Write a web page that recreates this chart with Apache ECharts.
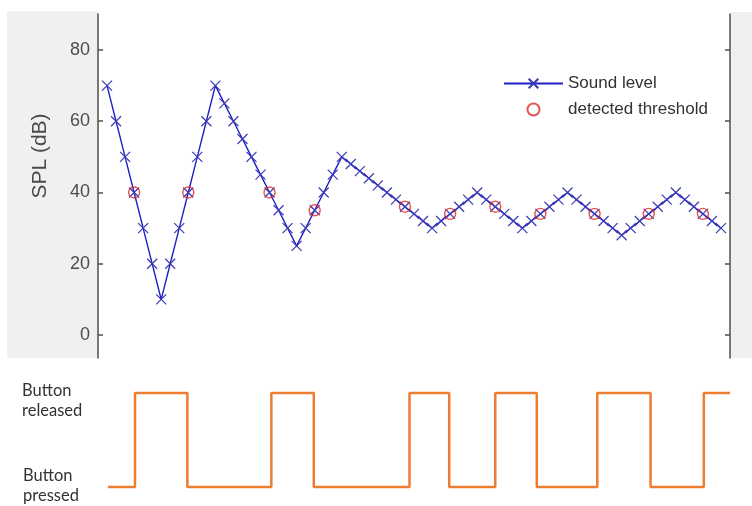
<!DOCTYPE html>
<html>
<head>
<meta charset="utf-8">
<script src="https://cdn.jsdelivr.net/npm/echarts@6/dist/echarts.min.js"></script>
<style>
html,body{margin:0;padding:0;background:#fff;}
#chart{width:752px;height:506px;}
</style>
</head>
<body>
<div id="chart"></div>
<script>
// Sound level (dB SPL), one value per trial (trial numbers 1..69)
var soundLevel = [70,60,50,40,30,20,10,20,30,40,50,60,70,
  65,60,55,50,45,40,35,30,25,
  30,35,40,45,50,
  48,46,44,42,40,38,36,34,32,30,
  32,34,36,38,40,
  38,36,34,32,30,
  32,34,36,38,40,
  38,36,34,32,30,28,
  30,32,34,36,38,40,
  38,36,34,32,30];
// detected thresholds (trial number, dB)
var thresholdTrial = [4,10,19,24,34,39,44,49,55,61,67];
var thresholdLevel = [40,40,40,35,36,34,36,34,34,34,34];
// button state changes (trial position, state: 0 = pressed, 1 = released)
var buttonTime  = [1.1, 4.1, 9.9, 19.2, 23.9, 34.5, 38.9, 44.0, 48.6, 55.3, 61.2, 67.1, 70];
var buttonState = [0,   1,   0,   1,    0,    1,    0,    1,    0,    1,    0,    1,    1];
var yTicks = [0,20,40,60,80];

var soundData = soundLevel.map(function(v,i){return [i+1, v];});
var threshData = thresholdTrial.map(function(t,i){return [t, thresholdLevel[i]];});
var buttonData = buttonTime.map(function(t,i){return [t, buttonState[i]];});

var chart = echarts.init(document.getElementById('chart'), null, {renderer:'canvas'});
var axisCol = '#4f4f4f';
var option = {
  backgroundColor: '#fff',
  animation: false,
  textStyle: {fontFamily: 'Liberation Sans, Arial, sans-serif'},
  graphic: [
    {type:'rect', z:-10, shape:{x:7, y:11, width:91, height:347}, style:{fill:'#f0f0f0'}},
    {type:'rect', z:-10, shape:{x:730, y:12, width:22, height:346}, style:{fill:'#f0f0f0'}},
    {type:'text', x:40, y:156, rotation: Math.PI/2, style:{text:'SPL (dB)', fontSize:21, fill:'#4a4a4a', fontFamily:'Liberation Sans, Arial, sans-serif', textAlign:'center', textVerticalAlign:'middle'}},
    {type:'text', x:22, y:391, style:{text:'Button', fontSize:16.5, fill:'#333', fontFamily:'Lato, sans-serif', textVerticalAlign:'middle'}},
    {type:'text', x:22, y:411, style:{text:'released', fontSize:16.5, fill:'#333', fontFamily:'Lato, sans-serif', textVerticalAlign:'middle'}},
    {type:'text', x:23, y:476, style:{text:'Button', fontSize:16.5, fill:'#333', fontFamily:'Lato, sans-serif', textVerticalAlign:'middle'}},
    {type:'text', x:23, y:496, style:{text:'pressed', fontSize:16.5, fill:'#333', fontFamily:'Lato, sans-serif', textVerticalAlign:'middle'}}
  ],
  legend: {
    orient: 'vertical',
    left: 503, top: 75, padding: 0,
    itemWidth: 59, itemHeight: 12, itemGap: 9,
    textStyle: {fontSize: 17, color: '#333', fontFamily:'Liberation Sans, Arial, sans-serif'},
    data: ['Sound level', 'detected threshold']
  },
  grid: [
    {left: 98, right: 22, top: 14, height: 344, show: true, backgroundColor: '#fff', borderWidth: 0},
    {left: 98, right: 22, top: 393, height: 94}
  ],
  xAxis: [
    {gridIndex:0, type:'value', min:0, max:70, show:false},
    {gridIndex:1, type:'value', min:0, max:70, show:false}
  ],
  yAxis: [
    {gridIndex:0, type:'value', min:-6.46, max:90.1, position:'left',
      axisLine:{show:true, lineStyle:{color:axisCol, width:1.5}},
      axisTick:{show:true, inside:true, length:5, customValues:yTicks, lineStyle:{color:axisCol, width:1.5}},
      axisLabel:{customValues:yTicks, fontSize:18, color:'#4d4d4d', margin:8},
      splitLine:{show:false}},
    {gridIndex:0, type:'value', min:-6.46, max:90.1, position:'right',
      axisLine:{show:true, lineStyle:{color:axisCol, width:1.5}},
      axisTick:{show:true, inside:true, length:5, customValues:yTicks, lineStyle:{color:axisCol, width:1.5}},
      axisLabel:{show:false},
      splitLine:{show:false}},
    {gridIndex:1, type:'value', min:0, max:1, show:false}
  ],
  series: [
    {name:'Sound level', type:'line', xAxisIndex:0, yAxisIndex:0, data: soundData,
      symbol:'path://M0,0L10,10M10,0L0,10', symbolSize:10, showAllSymbol:true,
      lineStyle:{color:'#2020c4', width:1.4},
      itemStyle:{color:'rgba(0,0,0,0)', borderColor:'#3a3ab4', borderWidth:1.2},
      z: 2},
    {name:'detected threshold', type:'scatter', xAxisIndex:0, yAxisIndex:0, data: threshData,
      symbol:'circle', symbolSize:11,
      itemStyle:{color:'rgba(0,0,0,0)', borderColor:'#e02828', borderWidth:1.4},
      z: 3},
    {name:'button', type:'line', xAxisIndex:1, yAxisIndex:2, data: buttonData,
      step:'end', symbol:'none', clip:false,
      lineStyle:{color:'#ED7D31', width:2.5}}
  ]
};
chart.setOption(option);
</script>
</body>
</html>
